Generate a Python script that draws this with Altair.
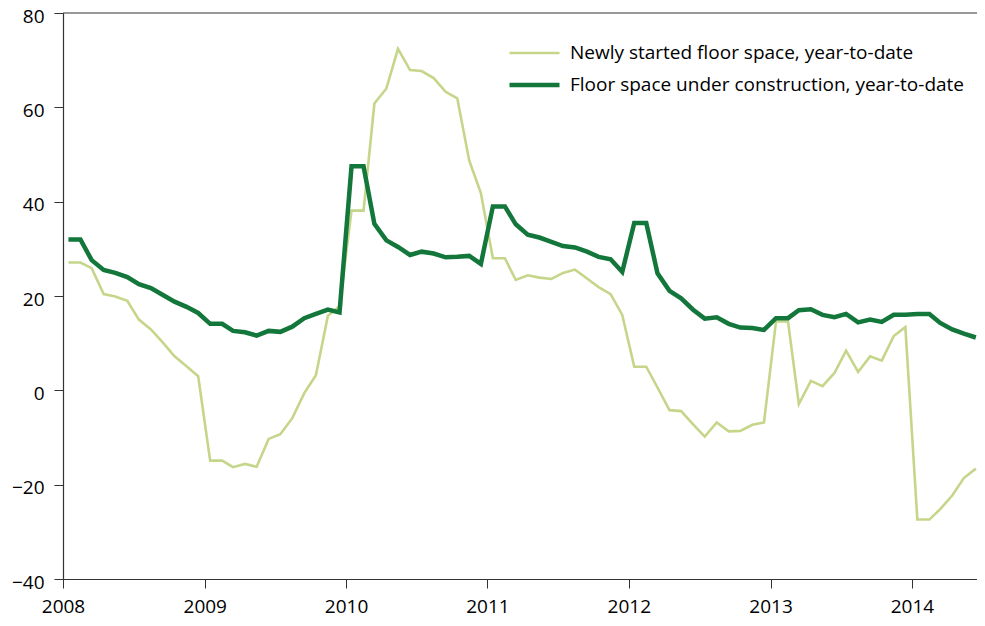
import altair as alt
import pandas as pd

# Monthly observations, Jan 2008 - Jun 2014 (plotted mid-month)
months = [f"{y}-{m:02d}-15" for y in range(2008, 2015) for m in range(1, 13)][:78]

newly_started = [27.1, 27.1, 25.9, 20.4, 19.9, 19.0, 15.0, 12.9, 10.1, 7.2, 5.1, 3.0,
                 -14.9, -14.9, -16.3, -15.6, -16.2, -10.3, -9.3, -5.9, -0.6, 3.2, 15.8, 17.8,
                 38.1, 38.1, 60.8, 64.0, 72.4, 67.9, 67.7, 66.2, 63.3, 61.9, 48.7, 41.8,
                 28.0, 28.0, 23.4, 24.4, 23.9, 23.6, 24.9, 25.6, 23.7, 21.9, 20.4, 16.0,
                 5.0, 5.0, 0.6, -4.2, -4.4, -7.2, -9.8, -6.8, -8.7, -8.6, -7.3, -6.8,
                 14.6, 14.6, -2.9, 2.0, 0.9, 3.7, 8.4, 3.9, 7.2, 6.3, 11.5, 13.4,
                 -27.4, -27.4, -25.2, -22.3, -18.6, -16.6]

under_construction = [32.0, 32.0, 27.6, 25.5, 24.9, 24.0, 22.5, 21.7, 20.2, 18.8, 17.7, 16.4,
                      14.1, 14.1, 12.6, 12.3, 11.6, 12.6, 12.4, 13.5, 15.3, 16.2, 17.1, 16.5,
                      47.5, 47.5, 35.3, 31.8, 30.4, 28.7, 29.4, 29.0, 28.2, 28.3, 28.5, 26.8,
                      39.0, 39.0, 35.2, 33.0, 32.4, 31.5, 30.6, 30.3, 29.4, 28.3, 27.8, 25.1,
                      35.5, 35.5, 24.8, 21.1, 19.5, 17.1, 15.2, 15.5, 14.1, 13.3, 13.2, 12.8,
                      15.3, 15.3, 17.0, 17.2, 16.0, 15.5, 16.2, 14.4, 15.0, 14.5, 16.0, 16.0,
                      16.2, 16.2, 14.3, 12.9, 12.0, 11.2]

series_names = ["Newly started floor space, year-to-date",
                "Floor space under construction, year-to-date"]
series_colors = ["#c5d68a", "#13763a"]
series_widths = [2.6, 4.5]

y_ticks = [-40, -20, 0, 20, 40, 60, 80]

df = pd.DataFrame({
    "date": months * 2,
    "value": newly_started + under_construction,
    "series": [series_names[0]] * len(months) + [series_names[1]] * len(months),
    "series_order": [0] * len(months) + [1] * len(months),
})

FONT = "Open Sans"
x_scale = alt.Scale(domain=["2008-01-01", "2014-06-18"], nice=False)
y_scale = alt.Scale(domain=[y_ticks[0], y_ticks[-1]], nice=False, zero=False)

legend_kw = dict(title=None, orient="none", legendX=444, legendY=29,
                 symbolType="stroke", symbolSize=2500, clipHeight=22,
                 labelFont=FONT, labelFontSize=19, labelColor="#000000",
                 labelOffset=8, rowPadding=10, labelLimit=600)

lines = alt.Chart(df).mark_line(strokeJoin="miter", clip=True).encode(
    x=alt.X("date:T", scale=x_scale,
            axis=alt.Axis(title=None, format="%Y", tickCount="year", grid=False,
                          labelFlush=False, labelPadding=9)),
    y=alt.Y("value:Q", scale=y_scale,
            axis=alt.Axis(title=None, values=y_ticks, grid=False, labelPadding=10,
                          labelOffset=3)),
    color=alt.Color("series:N",
                    scale=alt.Scale(domain=series_names, range=series_colors),
                    legend=alt.Legend(**legend_kw)),
    strokeWidth=alt.StrokeWidth("series:N",
                                scale=alt.Scale(domain=series_names, range=series_widths),
                                legend=alt.Legend(**legend_kw)),
    order=alt.Order("series_order:Q"),
    detail="series:N",
)

# top frame line at the upper end of the value axis
top = alt.Chart(pd.DataFrame({"v": [y_ticks[-1]]})).mark_rule(
    color="#333333", strokeWidth=1.2
).encode(y=alt.Y("v:Q", scale=y_scale))

chart = alt.layer(lines, top).properties(
    width=914, height=566,
    autosize=alt.AutoSizeParams(type="none"),
    padding={"left": 55, "top": 5, "right": 0, "bottom": 39},
).configure_axis(
    labelFont=FONT, labelFontSize=19, labelColor="#000000",
    domainColor="#333333", tickColor="#333333", tickSize=9, domainWidth=1.2,
).configure_view(stroke=None)

chart.save("out.html", embed_options={"renderer": "svg", "actions": False})
